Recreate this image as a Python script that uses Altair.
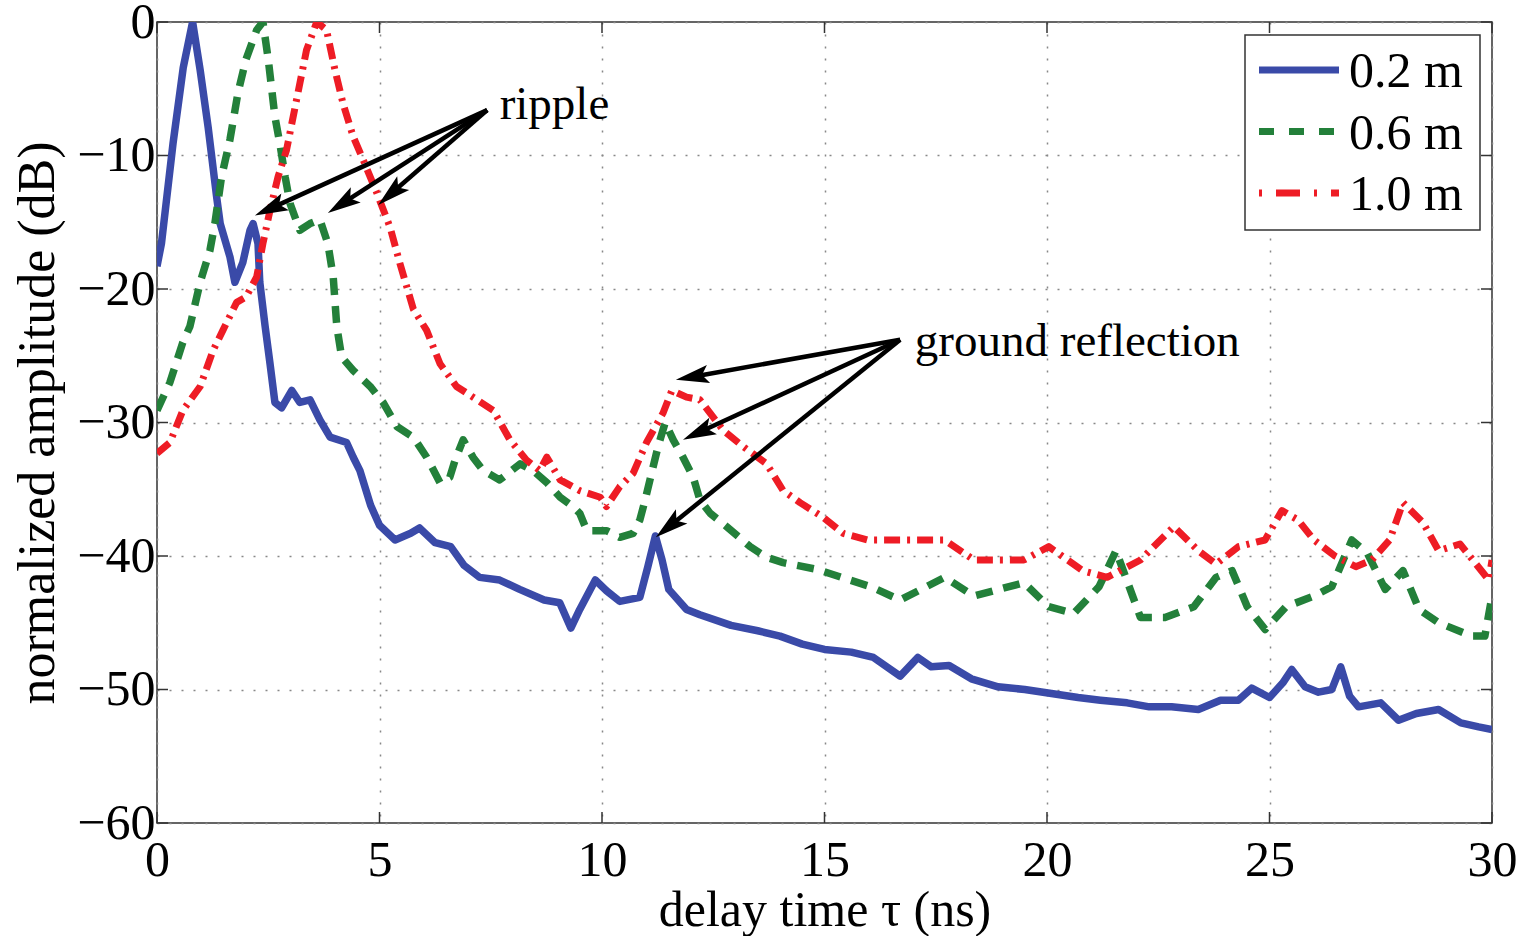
import math
import altair as alt
import pandas as pd

# ---------------- data ----------------
blue_t = [0, 0.1, 0.36, 0.59, 0.8, 0.97, 1.15, 1.34, 1.42, 1.64, 1.75, 1.93, 2.09, 2.16, 2.27,
          2.31, 2.43, 2.54, 2.65, 2.8, 3.03, 3.21, 3.44, 3.66, 3.89, 4.26, 4.41, 4.56, 4.8, 5.0,
          5.35, 5.7, 5.9, 6.25, 6.6, 6.9, 7.25, 7.7, 8.15, 8.7, 9.05, 9.3, 9.5, 9.85, 10.1,
          10.4, 10.85, 11.03, 11.2, 11.35, 11.5, 11.9, 12.2, 12.9, 13.5, 14.0, 14.5, 15.0, 15.6, 16.1,
          16.7, 17.1, 17.4, 17.8, 18.3, 18.9, 19.5, 20.1, 20.7, 21.2, 21.8, 22.3, 22.8, 23.4, 23.9,
          24.3, 24.6, 25.0, 25.3, 25.5, 25.8, 26.1, 26.4, 26.6, 26.8, 27.0, 27.5, 27.9, 28.3, 28.8,
          29.3, 29.7, 30.0]
blue_db = [-18.3, -16.6, -9.1, -3.4, 0, -3.6, -7.9, -13.1, -15.1, -17.6, -19.5, -18, -15.6, -15.1, -16.6,
           -19.5, -22.8, -25.6, -28.5, -28.9, -27.6, -28.5, -28.3, -29.8, -31.1, -31.5, -32.6, -33.6, -36.2, -37.7,
           -38.8, -38.3, -37.9, -39.0, -39.3, -40.7, -41.6, -41.8, -42.5, -43.3, -43.5, -45.4, -44.0, -41.8, -42.6,
           -43.4, -43.1, -40.8, -38.5, -40.3, -42.5, -44.0, -44.4, -45.2, -45.6, -46.0, -46.6, -47.0, -47.2, -47.6,
           -49.0, -47.6, -48.3, -48.2, -49.2, -49.8, -50.0, -50.3, -50.6, -50.8, -51.0, -51.3, -51.3, -51.5, -50.8,
           -50.8, -49.9, -50.6, -49.5, -48.5, -49.8, -50.2, -50.0, -48.3, -50.5, -51.3, -51.0, -52.3, -51.8, -51.5,
           -52.5, -52.8, -53.0]

green_t = [0, 0.29, 0.58, 0.74, 0.97, 1.19, 1.3, 1.45, 1.64, 1.82, 2.0, 2.24, 2.38, 2.5, 2.65,
           2.76, 2.88, 2.99, 3.21, 3.44, 3.66, 3.84, 3.96, 4.04, 4.15, 4.41, 4.79, 5.08, 5.39, 5.76,
           6.06, 6.36, 6.58, 6.7, 6.88, 7.1, 7.33, 7.7, 8.16, 8.45, 8.76, 9.06, 9.35, 9.5, 9.66,
           10.1, 10.4, 10.7, 10.85, 10.97, 11.15, 11.26, 11.42, 11.6, 11.82, 12.05, 12.2, 12.43, 12.8, 13.33,
           13.7, 14.07, 14.83, 15.57, 16.04, 16.7, 17.7, 18.36, 19.48, 20.04, 20.6, 21.17, 21.55, 22.1, 22.65,
           23.3, 23.8, 24.16, 24.5, 24.9, 25.37, 26.0, 26.4, 26.85, 27.2, 27.6, 28.0, 28.36, 28.8, 29.55,
           29.84, 30.0]
green_db = [-29.1, -27.0, -24.0, -22.8, -19.5, -17.1, -15.1, -11.6, -8.8, -5.3, -2.8, -0.6, 0, -2.8, -7.1,
            -9.1, -11.6, -13.6, -15.6, -15.1, -14.8, -16.6, -19.1, -22.8, -25.1, -26.1, -27.3, -28.5, -30.3, -31.1,
            -32.6, -34.5, -34.1, -32.8, -31.3, -32.6, -33.6, -34.3, -33.1, -33.6, -34.5, -35.6, -36.3, -36.8, -38.1,
            -38.1, -38.6, -38.3, -37.3, -35.8, -33.3, -31.8, -30.0, -31.3, -32.6, -34.1, -35.8, -36.8, -37.8, -39.3,
            -40.1, -40.5, -41.0, -41.8, -42.3, -43.3, -41.6, -43.0, -42.0, -43.8, -44.3, -42.3, -39.6, -44.6, -44.6,
            -43.8, -41.6, -41.1, -43.8, -45.5, -43.8, -43.0, -42.3, -38.8, -39.8, -42.5, -41.1, -44.0, -45.0, -46.0,
            -46.0, -43.0]

red_t = [0, 0.29, 0.58, 0.97, 1.26, 1.48, 1.79, 2.0, 2.24, 2.38, 2.54, 2.72, 2.91, 3.06, 3.21,
         3.36, 3.59, 3.81, 4.0, 4.18, 4.41, 4.63, 4.94, 5.24, 5.46, 5.76, 6.06, 6.36, 6.73, 7.1,
         7.56, 7.93, 8.3, 8.6, 8.76, 9.06, 9.5, 9.96, 10.1, 10.4, 10.7, 11.0, 11.37, 11.57, 11.9,
         12.2, 12.43, 12.73, 13.17, 13.7, 14.07, 14.45, 14.97, 15.42, 15.96, 16.54, 17.7, 18.36, 19.48, 20.04,
         20.8, 21.35, 22.1, 22.85, 23.4, 23.8, 24.3, 24.9, 25.28, 25.64, 26.0, 26.47, 26.94, 27.3, 27.7,
         28.0, 28.45, 28.8, 29.28, 29.93, 30.0]
red_db = [-32.3, -31.5, -29.1, -27.3, -24.6, -23.1, -21.0, -20.6, -19.1, -16.6, -14.1, -11.6, -9.6, -7.1, -4.6,
          -2.1, 0, -0.6, -3.6, -6.1, -8.6, -10.3, -12.8, -15.4, -18.1, -21.5, -23.1, -25.6, -27.3, -28.1,
          -29.1, -31.3, -32.8, -33.6, -32.6, -34.3, -35.1, -35.6, -36.3, -34.8, -33.8, -31.5, -29.3, -27.6, -28.1,
          -28.3, -29.3, -30.6, -31.8, -33.1, -35.1, -36.0, -37.1, -38.3, -38.8, -38.8, -38.8, -40.3, -40.3, -39.3,
          -41.1, -41.6, -40.3, -37.8, -39.6, -40.6, -39.3, -38.8, -36.6, -37.3, -38.8, -40.0, -40.8, -40.3, -38.8,
          -36.0, -37.5, -39.6, -39.1, -41.8, -40.3]

series_labels = ["0.2 m", "0.6 m", "1.0 m"]
x_ticks = [0, 5, 10, 15, 20, 25, 30]
y_ticks = [0, -10, -20, -30, -40, -50, -60]

ripple_text = "ripple"
ripple_text_pos = (7.7, -6.2)
ripple_start = (7.42, -6.6)
ripple_ends = [(2.2, -14.5), (3.84, -14.3), (4.97, -13.7)]

ground_text = "ground reflection"
ground_text_pos = (17.03, -24.0)
ground_start = (16.7, -23.8)
ground_ends = [(11.66, -26.8), (11.82, -31.3), (11.21, -38.6)]

# ---------------- layout / style ----------------
W, H = 1335, 801
XMIN, XMAX = 0, 30
YMIN, YMAX = -60, 0
FONT = "Liberation Serif"
BLUE, GREEN, RED = "#3a4aa8", "#23803a", "#ee1c25"
FRAME = "#333333"

xs = alt.Scale(domain=[XMIN, XMAX], nice=False, zero=False)
ys = alt.Scale(domain=[YMIN, YMAX], nice=False, zero=False)


def to_px(t, d):
    return (t - XMIN) / (XMAX - XMIN) * W, (YMAX - d) / (YMAX - YMIN) * H


def to_data(px, py):
    return XMIN + px / W * (XMAX - XMIN), YMAX - py / H * (YMAX - YMIN)


X_AX = alt.Axis(values=x_ticks, grid=True, gridDash=[2, 10], gridColor="#888888", gridWidth=1.5,
                ticks=False, domain=False, labelFont=FONT, labelFontSize=50, labelColor="black",
                labelPadding=12, labelFlush=False, labelOverlap=False,
                title="delay time τ (ns)", titleFont=FONT, titleFontSize=50, titleFontWeight="normal",
                titleColor="black", titlePadding=0)
Y_AX = alt.Axis(values=y_ticks, grid=True, gridDash=[2, 10], gridColor="#888888", gridWidth=1.5,
                ticks=False, domain=False, labelFont=FONT, labelFontSize=50, labelColor="black",
                labelPadding=2, labelFlush=False, labelOverlap=False,
                labelExpr="datum.value < 0 ? '\u2212' + abs(datum.value) : datum.value",
                title="normalized amplitude (dB)", titleFont=FONT, titleFontSize=52,
                titleFontWeight="normal", titleColor="black", titlePadding=12)


def X(field):
    return alt.X(field, scale=xs, axis=X_AX)


def Y(field):
    return alt.Y(field, scale=ys, axis=Y_AX)


def line_layer(t, d, color, dash, width):
    df = pd.DataFrame({"t": t, "db": d})
    kw = dict(color=color, strokeWidth=width, clip=True, strokeJoin="round")
    if dash:
        kw["strokeDash"] = dash
    return alt.Chart(df).mark_line(**kw).encode(x=X("t:Q"), y=Y("db:Q"), order="t:Q")


blue = line_layer(blue_t, blue_db, BLUE, None, 7.5)
green = line_layer(green_t, green_db, GREEN, [17, 11], 7.5)
red = line_layer(red_t, red_db, RED, [16, 7, 3, 7], 7)

# inner ticks (matlab style)
TL = 11
xt = pd.DataFrame({"t": x_ticks})
yt = pd.DataFrame({"db": y_ticks})
tick_x_bot = alt.Chart(xt).mark_rule(color=FRAME, strokeWidth=1.5).encode(
    x=X("t:Q"), y=alt.value(H), y2=alt.value(H - TL))
tick_x_top = alt.Chart(xt).mark_rule(color=FRAME, strokeWidth=1.5).encode(
    x=X("t:Q"), y=alt.value(0), y2=alt.value(TL))
tick_y_l = alt.Chart(yt).mark_rule(color=FRAME, strokeWidth=1.5).encode(
    y=Y("db:Q"), x=alt.value(0), x2=alt.value(TL))
tick_y_r = alt.Chart(yt).mark_rule(color=FRAME, strokeWidth=1.5).encode(
    y=Y("db:Q"), x=alt.value(W), x2=alt.value(W - TL))

# arrows
HEAD_SIZE = 1100  # custom path is scaled by sqrt(size)/2
HEAD_R = math.sqrt(HEAD_SIZE) / 2
shaft_rows, head_rows = [], []
for start, ends in [(ripple_start, ripple_ends), (ground_start, ground_ends)]:
    sx, sy = to_px(*start)
    for end in ends:
        ex, ey = to_px(*end)
        dx, dy = ex - sx, ey - sy
        L = math.hypot(dx, dy)
        ux, uy = dx / L, dy / L
        cx, cy = ex - ux * HEAD_R, ey - uy * HEAD_R
        bx, by = ex - ux * HEAD_R * 1.3, ey - uy * HEAD_R * 1.3
        ct, cd = to_data(cx, cy)
        bt, bd = to_data(bx, by)
        shaft_rows.append({"t": start[0], "db": start[1], "t2": bt, "db2": bd})
        ang = math.degrees(math.atan2(dx, -dy)) % 360
        head_rows.append({"t": ct, "db": cd, "ang": ang})

shafts = alt.Chart(pd.DataFrame(shaft_rows)).mark_rule(color="black", strokeWidth=4.5).encode(
    x=X("t:Q"), y=Y("db:Q"), x2="t2:Q", y2="db2:Q")
heads = alt.Chart(pd.DataFrame(head_rows)).mark_point(
    shape="M0,-1L0.55,1L0,0.6L-0.55,1Z", filled=True, color="black", opacity=1,
    size=HEAD_SIZE, strokeWidth=0).encode(
    x=X("t:Q"), y=Y("db:Q"), angle=alt.Angle("ang:Q", scale=None))

texts = alt.Chart(pd.DataFrame({
    "t": [ripple_text_pos[0], ground_text_pos[0]],
    "db": [ripple_text_pos[1], ground_text_pos[1]],
    "label": [ripple_text, ground_text]})).mark_text(
    align="left", baseline="middle", font=FONT, fontSize=47, color="black").encode(
    x=X("t:Q"), y=Y("db:Q"), text="label:N")

# legend (drawn manually, top right)
one = pd.DataFrame({"k": [0]})
legend_box = alt.Chart(one).mark_rect(fill="white", stroke=FRAME, strokeWidth=1.5).encode(
    x=alt.value(1088), x2=alt.value(1323), y=alt.value(13), y2=alt.value(208))
legend_items = []
for i, (lab, col, dash) in enumerate(zip(series_labels, [BLUE, GREEN, RED],
                                         [None, [15, 15], [3, 14, 24, 14]])):
    yy = 48 + i * 61.5
    kw = dict(color=col, strokeWidth=7, strokeCap="butt")
    if dash:
        kw["strokeDash"] = dash
    legend_items.append(alt.Chart(one).mark_rule(**kw).encode(
        x=alt.value(1102), x2=alt.value(1182), y=alt.value(yy)))
    legend_items.append(alt.Chart(pd.DataFrame({"label": [lab]})).mark_text(
        align="left", baseline="middle", font=FONT, fontSize=50, color="black").encode(
        x=alt.value(1192), y=alt.value(yy + 2), text="label:N"))

chart = alt.layer(
    blue, tick_x_bot, tick_x_top, tick_y_l, tick_y_r, green, red, shafts, heads, texts,
    legend_box, *legend_items
).properties(
    width=W, height=H,
    autosize=alt.AutoSizeParams(type="none"),
    padding={"left": 157, "top": 22, "right": 35, "bottom": 113},
    background="white",
).configure_view(stroke=FRAME, strokeWidth=1.5)

chart.save("out.html", embed_options={"renderer": "svg", "actions": False})
